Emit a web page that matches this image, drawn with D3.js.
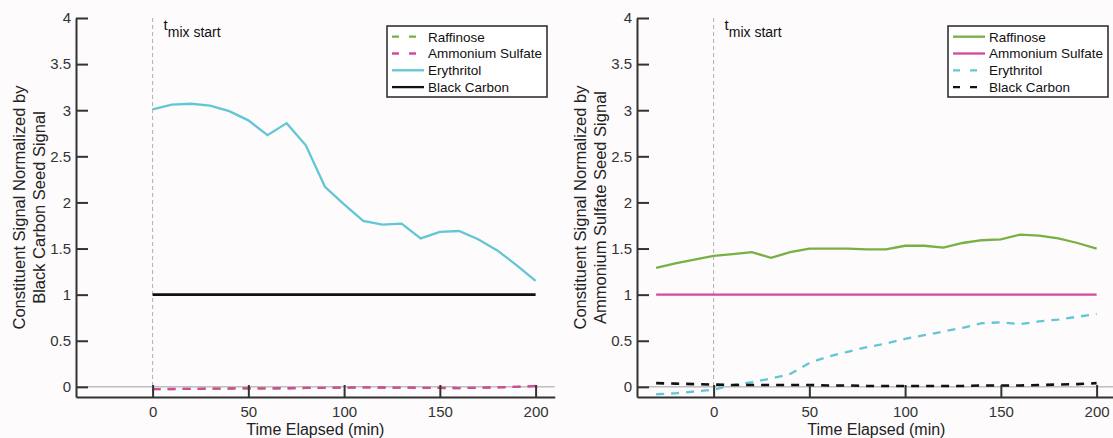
<!DOCTYPE html>
<html>
<head>
<meta charset="utf-8">
<script src="https://cdn.jsdelivr.net/npm/d3@7"></script>
<style>
  body { margin: 0; background: #fdfbfc; }
  svg { display: block; font-family: "Liberation Sans", Arial, sans-serif; }
  .tick text { fill: #333; font-size: 15px; }
  .domain, .tick line { stroke: #333; }
</style>
</head>
<body>
<div id="chart"></div>
<script>
// ---- data ----
const seriesNames = ["Raffinose", "Ammonium Sulfate", "Erythritol", "Black Carbon"];
const yTicks = [0, 0.5, 1, 1.5, 2, 2.5, 3, 3.5, 4];
const xTicks = [0, 50, 100, 150, 200];

// left panel: normalised by black carbon seed
const timeLeft = [0, 10, 20, 30, 40, 50, 60, 70, 80, 90, 100, 110, 120, 130, 140, 150, 160, 170, 180, 190, 200];
const raffinoseLeft = [-0.025, -0.024, -0.022, -0.02, -0.018, -0.016, -0.016, -0.015, -0.012, -0.01, -0.008, -0.006, -0.007, -0.008, -0.01, -0.012, -0.013, -0.01, -0.005, 0.0, 0.008];
const ammoniumLeft = [-0.025, -0.023, -0.022, -0.02, -0.018, -0.015, -0.016, -0.015, -0.012, -0.01, -0.008, -0.006, -0.007, -0.008, -0.01, -0.012, -0.013, -0.01, -0.005, 0.0, 0.01];
const erythritolLeft = [3.01, 3.06, 3.07, 3.05, 2.99, 2.89, 2.73, 2.86, 2.62, 2.17, 1.98, 1.80, 1.76, 1.77, 1.61, 1.68, 1.69, 1.60, 1.48, 1.32, 1.15];
const blackCarbonLeft = [1, 1, 1, 1, 1, 1, 1, 1, 1, 1, 1, 1, 1, 1, 1, 1, 1, 1, 1, 1, 1];

// right panel: normalised by ammonium sulfate seed
const timeRight = [-30, -20, -10, 0, 10, 20, 30, 40, 50, 60, 70, 80, 90, 100, 110, 120, 130, 140, 150, 160, 170, 180, 190, 200];
const raffinoseRight = [1.29, 1.34, 1.38, 1.42, 1.44, 1.46, 1.40, 1.46, 1.50, 1.50, 1.50, 1.49, 1.49, 1.53, 1.53, 1.51, 1.56, 1.59, 1.60, 1.65, 1.64, 1.61, 1.56, 1.50];
const ammoniumRight = [1, 1, 1, 1, 1, 1, 1, 1, 1, 1, 1, 1, 1, 1, 1, 1, 1, 1, 1, 1, 1, 1, 1, 1];
const erythritolRight = [-0.08, -0.07, -0.05, -0.03, 0.02, 0.05, 0.09, 0.14, 0.26, 0.33, 0.38, 0.43, 0.47, 0.52, 0.56, 0.60, 0.64, 0.69, 0.70, 0.68, 0.71, 0.73, 0.76, 0.79];
const blackCarbonRight = [0.04, 0.035, 0.03, 0.025, 0.02, 0.02, 0.02, 0.02, 0.02, 0.015, 0.015, 0.01, 0.01, 0.01, 0.01, 0.01, 0.01, 0.015, 0.015, 0.015, 0.02, 0.025, 0.03, 0.04];

const colors = {
    "Raffinose": "#78b043",
    "Ammonium Sulfate": "#d4499d",
    "Erythritol": "#62c6d5",
    "Black Carbon": "#111"
};

const W = 1113, H = 438;
const svg = d3.select("#chart").append("svg")
    .attr("width", W)
    .attr("height", H);

function drawPanel(opts) {
    const x = d3.scaleLinear().domain([-40, 210]).range([opts.left, opts.left + 250 * 1.915]);
    const y = d3.scaleLinear().domain([-0.11, 4]).range([397, 18]);
    const g = svg.append("g");

    // zero line and mix-start marker
    g.append("line")
        .attr("x1", x(-40)).attr("x2", x(210))
        .attr("y1", y(0)).attr("y2", y(0))
        .attr("stroke", "#a0a0a0").attr("stroke-width", 1);
    g.append("line")
        .attr("x1", x(0)).attr("x2", x(0))
        .attr("y1", y(4)).attr("y2", y(-0.11))
        .attr("stroke", "#b0b0b0").attr("stroke-width", 1)
        .attr("stroke-dasharray", "4,3");

    const mix = g.append("text")
        .attr("x", x(0) + 11).attr("y", 30)
        .attr("fill", "#111").attr("font-size", 15);
    mix.append("tspan").text("t");
    mix.append("tspan").attr("dy", 7).attr("font-size", 14).text("mix start");

    // series
    const line = d3.line().x(d => x(d[0])).y(d => y(d[1]));
    opts.series.forEach(s => {
        g.append("path")
            .datum(opts.time.map((t, i) => [t, s.values[i]]))
            .attr("d", line)
            .attr("fill", "none")
            .attr("stroke", colors[s.name])
            .attr("stroke-width", s.name === "Black Carbon" ? 2.6 : 2.3)
            .attr("stroke-dasharray", s.dashed ? "8,7" : null);
    });

    // axes, ticks pointing inward
    g.append("g")
        .attr("transform", `translate(0,${y(-0.11)})`)
        .call(d3.axisBottom(x).tickValues(xTicks).tickSize(-12).tickSizeOuter(0).tickPadding(9))
        .call(a => a.selectAll(".domain, .tick line").attr("stroke-width", 2));
    g.append("g")
        .attr("transform", `translate(${opts.left},0)`)
        .call(d3.axisLeft(y).tickValues(yTicks).tickSize(-12).tickSizeOuter(0).tickPadding(5).tickFormat(d => String(d)))
        .call(a => a.selectAll(".domain, .tick line").attr("stroke-width", 2));

    // axis titles
    g.append("text")
        .attr("x", (x(-40) + x(210)) / 2).attr("y", 435)
        .attr("text-anchor", "middle").attr("font-size", 16).attr("fill", "#222")
        .text("Time Elapsed (min)");
    const yl = g.append("text")
        .attr("transform", `translate(${opts.left - 51},207.5) rotate(-90)`)
        .attr("text-anchor", "middle").attr("font-size", 16.5).attr("fill", "#222");
    yl.append("tspan").attr("x", 0).attr("y", 0).text("Constituent Signal Normalized by");
    yl.append("tspan").attr("x", 0).attr("y", 20).text(opts.yLabel2);

    // legend
    const lg = g.append("g").attr("transform", `translate(${opts.legendX},26)`);
    lg.append("rect")
        .attr("width", 160).attr("height", 71)
        .attr("fill", "#fff").attr("stroke", "#333").attr("stroke-width", 1.6);
    opts.series.forEach((s, i) => {
        const ry = 10.7 + i * 16.8;
        lg.append("line")
            .attr("x1", 5).attr("x2", 37).attr("y1", ry).attr("y2", ry)
            .attr("stroke", colors[s.name]).attr("stroke-width", 2.3)
            .attr("stroke-dasharray", s.dashed ? "7,10" : null);
        lg.append("text")
            .attr("x", 41).attr("y", ry + 4.8)
            .attr("font-size", 13.5).attr("fill", "#111")
            .text(s.name);
    });
}

drawPanel({
    left: 76,
    legendX: 387,
    time: timeLeft,
    yLabel2: "Black Carbon Seed Signal",
    series: [
        {name: seriesNames[0], values: raffinoseLeft, dashed: true},
        {name: seriesNames[1], values: ammoniumLeft, dashed: true},
        {name: seriesNames[2], values: erythritolLeft, dashed: false},
        {name: seriesNames[3], values: blackCarbonLeft, dashed: false}
    ]
});

drawPanel({
    left: 637,
    legendX: 948,
    time: timeRight,
    yLabel2: "Ammonium Sulfate Seed Signal",
    series: [
        {name: seriesNames[0], values: raffinoseRight, dashed: false},
        {name: seriesNames[1], values: ammoniumRight, dashed: false},
        {name: seriesNames[2], values: erythritolRight, dashed: true},
        {name: seriesNames[3], values: blackCarbonRight, dashed: true}
    ]
});
</script>
</body>
</html>
